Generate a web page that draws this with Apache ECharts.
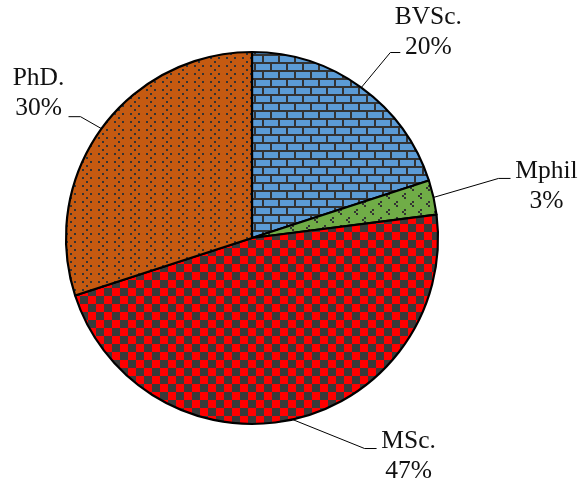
<!DOCTYPE html>
<html>
<head>
<meta charset="utf-8">
<script src="https://cdn.jsdelivr.net/npm/echarts@6/dist/echarts.min.js"></script>
<style>html,body{margin:0;padding:0;background:#fff;}#c{width:584px;height:488px;}</style>
</head>
<body>
<div id="c"></div>
<script>
// ---- data ----
var categories = ['BVSc.', 'Mphil', 'MSc.', 'PhD.'];
var values = [20, 3, 47, 30];

// ---- label placement (annotation only) ----
var lineBend = [[29, -35], [65, -19], [72, 29], [-21, -12]];
var lineTail = [10, 12, 12, -12];
var labelOffset = [[28, -20], [36, 8], [32, 8], [-30, -23]];

var serif = "'Liberation Serif', 'Times New Roman', Times, serif";

function tile(w, h, draw) {
  var c = document.createElement('canvas');
  c.width = w; c.height = h;
  var g = c.getContext('2d');
  draw(g);
  return { image: c, repeat: 'repeat' };
}
var dark = '#333333';
var brick = tile(16, 16, function (g) {
  g.fillStyle = dark; g.fillRect(0, 0, 16, 16);
  g.fillStyle = '#5b9bd5';
  g.fillRect(0, 0, 14, 6);
  g.fillRect(0, 8, 6, 6);
  g.fillRect(8, 8, 8, 6);
});
var greenDots = tile(16, 16, function (g) {
  g.fillStyle = '#70ad47'; g.fillRect(0, 0, 16, 16);
  g.fillStyle = dark;
  function chev(x, y) { g.fillRect(x + 2, y, 2, 2); g.fillRect(x, y + 2, 2, 2); g.fillRect(x + 2, y + 4, 2, 2); }
  chev(2, 1); chev(10, 9);
});
var checker = tile(16, 16, function (g) {
  g.fillStyle = '#ff0000'; g.fillRect(0, 0, 16, 16);
  g.fillStyle = '#3a3a3a';
  g.fillRect(8, 0, 8, 8); g.fillRect(0, 8, 8, 8);
});
var orangeDots = tile(16, 8, function (g) {
  g.fillStyle = '#c55a11'; g.fillRect(0, 0, 16, 8);
  g.fillStyle = dark;
  g.fillRect(2, 1, 2, 2); g.fillRect(10, 1, 2, 2); g.fillRect(6, 5, 2, 2);
});
var fills = [brick, greenDots, checker, orangeDots];

var chart = echarts.init(document.getElementById('c'), null, { renderer: 'canvas' });
chart.setOption({
  animation: false,
  backgroundColor: '#ffffff',
  textStyle: { fontFamily: serif },
  series: [{
    type: 'pie',
    center: [252, 238],
    radius: 186,
    startAngle: 90,
    clockwise: true,
    avoidLabelOverlap: false,
    data: categories.map(function (n, i) {
      return { name: n, value: values[i], itemStyle: { color: fills[i] } };
    }),
    itemStyle: { borderColor: '#000', borderWidth: 2.2 },
    label: {
      show: true,
      position: 'outside',
      fontFamily: serif,
      fontSize: 25.5,
      lineHeight: 30,
      color: '#111',
      formatter: '{a|{b}}\n{a|{d}%}',
      rich: { a: { fontFamily: serif, fontSize: 25.5, lineHeight: 30, color: '#111', align: 'center' } }
    },
    labelLine: { show: true, length: 20, length2: 10, smooth: false, lineStyle: { color: '#000', width: 1 } },
    labelLayout: function (p) {
      var i = p.dataIndex;
      var p0 = p.labelLinePoints[0];
      var p1 = [p0[0] + lineBend[i][0], p0[1] + lineBend[i][1]];
      var p2 = [p1[0] + lineTail[i], p1[1]];
      return {
        x: p2[0] + labelOffset[i][0],
        y: p2[1] + labelOffset[i][1],
        align: 'center',
        verticalAlign: 'middle',
        labelLinePoints: [p0, p1, p2]
      };
    },
    emphasis: { disabled: true }
  }]
});
</script>
</body>
</html>
